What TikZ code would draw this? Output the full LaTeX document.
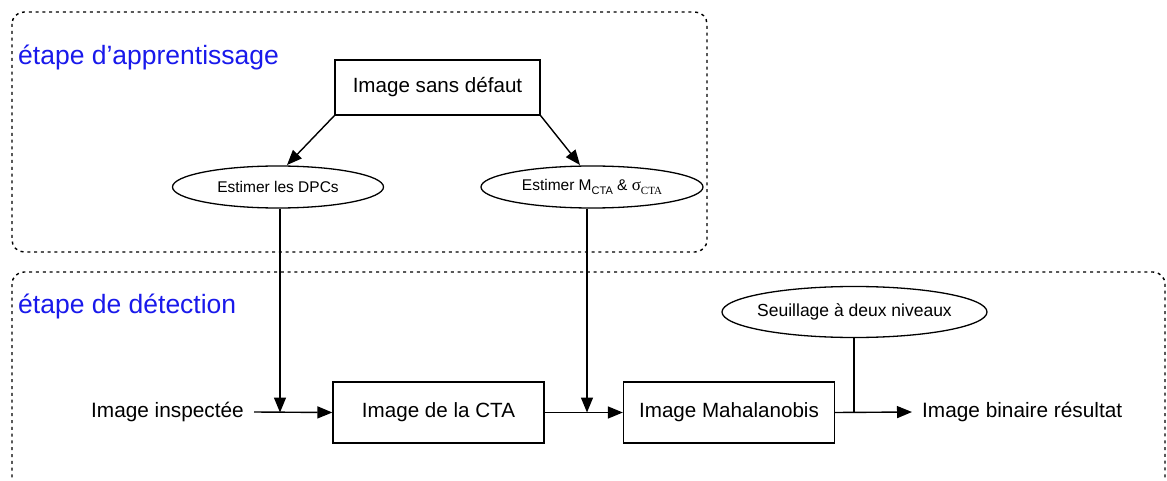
\documentclass[tikz,border=0pt]{standalone}
\usepackage{fontspec}
\setmainfont{Liberation Sans}
\newfontfamily\grserif{Liberation Serif}
\usetikzlibrary{arrows.meta,shapes.geometric}
\definecolor{stageblue}{RGB}{25,25,235}
\newcommand\mysub[1]{\raisebox{-0.45ex}{\fontsize{11}{12}\selectfont #1}}
\begin{document}
\begin{tikzpicture}[x=1pt,y=-1pt,
  stage/.style={draw, line width=1.4pt, dash pattern=on 3pt off 3.8pt, rounded corners=12pt},
  stagelabel/.style={text=stageblue, font=\fontsize{26.5}{30}\selectfont, anchor=base west, inner sep=0pt},
  proc/.style={draw, line width=1.3pt, font=\fontsize{20.6}{24}\selectfont, inner sep=0pt},
  oval/.style={ellipse, draw, line width=1.3pt, inner sep=0pt},
  lbl/.style={font=\fontsize{20.8}{24}\selectfont, inner xsep=10pt, inner ysep=0pt},
  flow/.style={line width=1.4pt, -{Triangle[length=15pt,width=12pt]}},
  plain/.style={line width=1.4pt}
]
\useasboundingbox (0,0) rectangle (1167,481);
\clip (0,0) rectangle (1167,481);

% stages
\draw[stage] (12,12) rectangle (707,252);
\draw[stage] (12,272) rectangle (1165,520);
\node[stagelabel] (lab1) at (18,65) {étape d’apprentissage};
\node[stagelabel] (lab2) at (18,313) {étape de détection};

% learning stage
\node[proc, minimum width=205pt, minimum height=55pt] (sans) at (437.5,87.5) {Image sans défaut};
\node[oval, minimum width=211pt, minimum height=42pt, font=\fontsize{15.5}{18}\selectfont] (dpc) at (278,187) {Estimer les DPCs};
\node[oval, minimum width=222pt, minimum height=42pt, font=\fontsize{15.5}{18}\selectfont] (mcta) at (592,187) {Estimer M\mysub{CTA} \& {\grserif\fontsize{17}{18}\selectfont σ\mysub{CTA}}};

\coordinate (t1) at (287,165);
\coordinate (t2) at (580,165);
\draw[flow] (sans.south west) -- (t1);
\draw[flow] (sans.south east) -- (t2);

% detection stage
\node[lbl, anchor=east] (insp) at (254,412) {Image inspectée};
\node[proc, minimum width=211pt, minimum height=61pt] (cta) at (438.5,412.5) {Image de la CTA};
\node[proc, minimum width=211pt, minimum height=61pt] (maha) at (729,412.5) {Image Mahalanobis};
\node[oval, minimum width=265pt, minimum height=51pt] (seuil) at (854.5,312) {};
\node[font=\fontsize{17.5}{20}\selectfont, inner sep=0pt] (seuiltxt) at (seuil.center) {Seuillage à deux niveaux};
\node[lbl, anchor=west] (res) at (912,412) {Image binaire résultat};

\coordinate (j1) at (280,412.5);
\coordinate (j2) at (587,412.5);
\coordinate (j3) at (854,412.5);

\draw[flow] (insp.east) -- (cta.west);
\draw[flow] (cta.east) -- (maha.west);
\draw[flow] (maha.east) -- (res.west);
\draw[flow] (dpc.south -| j1) -- (j1);
\draw[flow] (mcta.south -| j2) -- (j2);
\draw[plain] (seuil.south -| j3) -- (j3);
\end{tikzpicture}
\end{document}
